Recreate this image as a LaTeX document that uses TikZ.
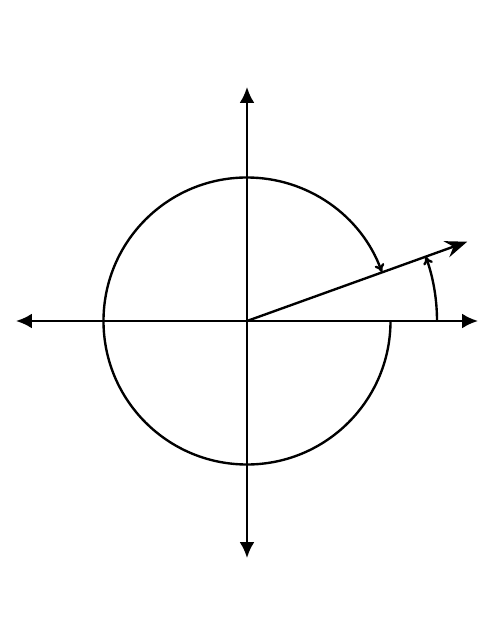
\documentclass[tikz,border=0pt]{standalone}
\usepackage{tikz}
\usetikzlibrary{arrows.meta}
\usetikzlibrary{calc}
\tikzset{every picture/.style={line width=1.35pt}}

\begin{document}
\begin{tikzpicture}[axis/.style={-{Latex[length=3.2mm,width=3mm]}},ray/.style={-{Stealth[length=4.4mm,width=3.4mm,inset=1.5mm]}},turn/.style={-{To[length=1.6mm,width=2mm]}}]
\useasboundingbox (-4.94,-6.38) rectangle (4.94,6.42);
\coordinate (O) at (0,0);
\coordinate (xr) at (4.62,0);
\coordinate (xl) at (-4.62,0);
\coordinate (yt) at (0,4.68);
\coordinate (yb) at (0,-4.74);
\coordinate (tip) at (19.8:4.68);
\coordinate (c0) at (2.87,0);
\coordinate (a0) at (3.8,0);
\draw[axis] (O) -- (xr);
\draw[axis] (O) -- (xl);
\draw[axis] (O) -- (yt);
\draw[axis] (O) -- (yb);
\draw[ray] (O) -- (tip);
% coterminal turns
\draw[turn] (c0) arc[start angle=0,end angle=-340,radius=2.87];
\draw[turn] (a0) arc[start angle=0,end angle=19.8,radius=3.8];
\end{tikzpicture}
\end{document}
